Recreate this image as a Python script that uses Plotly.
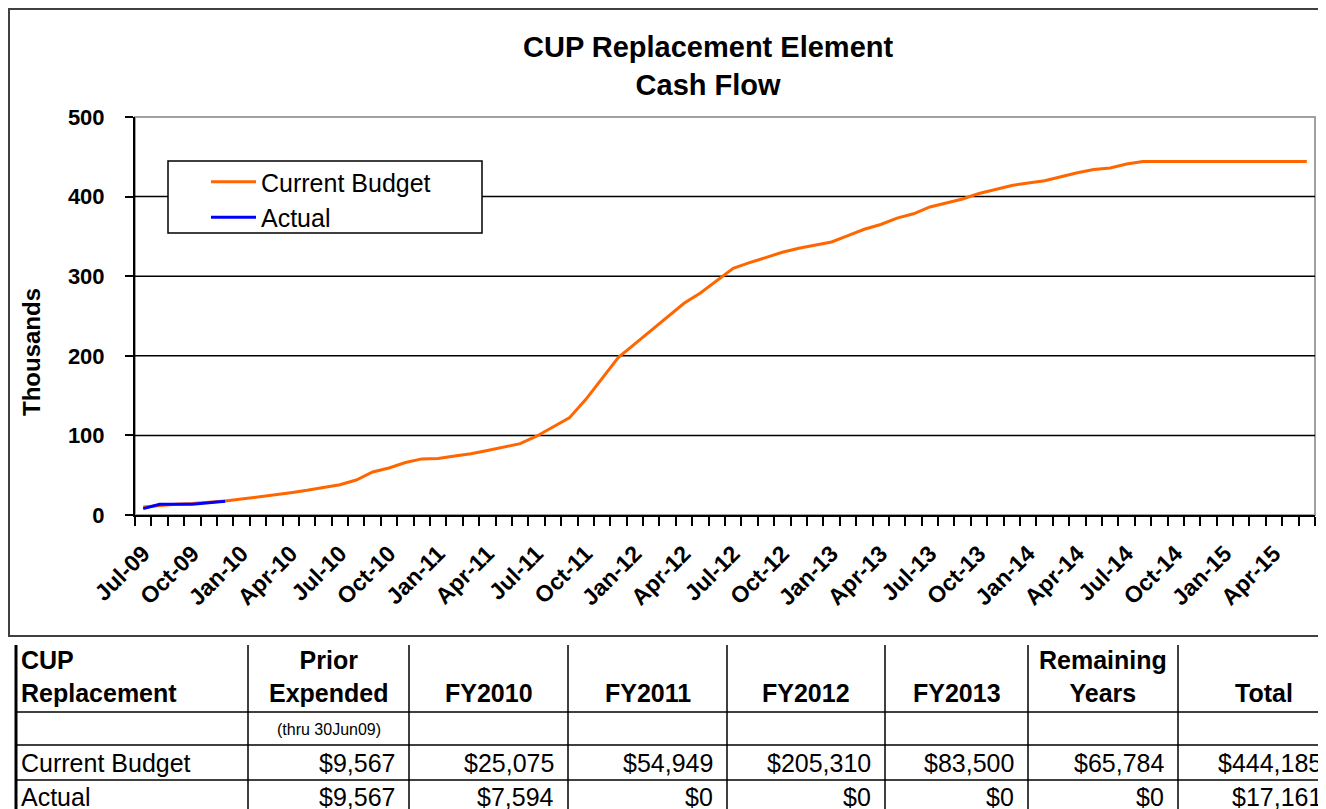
import plotly.graph_objects as go

# month categories (one per point)
months = [
    "Jul-09", "Aug-09", "Sep-09", "Oct-09", "Nov-09", "Dec-09", "Jan-10", "Feb-10", "Mar-10", "Apr-10", "May-10", "Jun-10",
    "Jul-10", "Aug-10", "Sep-10", "Oct-10", "Nov-10", "Dec-10", "Jan-11", "Feb-11", "Mar-11", "Apr-11", "May-11", "Jun-11",
    "Jul-11", "Aug-11", "Sep-11", "Oct-11", "Nov-11", "Dec-11", "Jan-12", "Feb-12", "Mar-12", "Apr-12", "May-12", "Jun-12",
    "Jul-12", "Aug-12", "Sep-12", "Oct-12", "Nov-12", "Dec-12", "Jan-13", "Feb-13", "Mar-13", "Apr-13", "May-13", "Jun-13",
    "Jul-13", "Aug-13", "Sep-13", "Oct-13", "Nov-13", "Dec-13", "Jan-14", "Feb-14", "Mar-14", "Apr-14", "May-14", "Jun-14",
    "Jul-14", "Aug-14", "Sep-14", "Oct-14", "Nov-14", "Dec-14", "Jan-15", "Feb-15", "Mar-15", "Apr-15", "May-15", "Jun-15",
]

# cumulative values, thousands of $
current_budget = [
    10, 12, 13.5, 14.5, 16, 17.5, 20, 22.5, 25.5, 28, 31, 34.6,
    38, 44, 54, 59, 66, 70.5, 71, 74, 77, 81, 85, 89.6,
    99, 110, 122, 145, 172, 198, 215, 232, 250, 266, 279, 294.9,
    310, 317, 324, 330, 335, 339, 343, 351, 359, 365, 373, 378.4,
    387, 392, 397, 404, 409, 414, 417, 420, 425, 430, 434, 436,
    441, 444.2, 444.2, 444.2, 444.2, 444.2, 444.2, 444.2, 444.2, 444.2, 444.2, 444.2,
]
actual = [8, 13.4, 13.5, 13.6, 15.5, 17.2]

# table under the chart
table_header = ["CUP<br>Replacement", "Prior<br>Expended", "FY2010", "FY2011", "FY2012", "FY2013",
                "Remaining<br>Years", "Total"]
table_note = ["", "(thru 30Jun09)", "", "", "", "", "", ""]
budget_row = ["Current Budget", "$9,567", "$25,075", "$54,949", "$205,310", "$83,500", "$65,784", "$444,185"]
actual_row = ["Actual", "$9,567", "$7,594", "$0", "$0", "$0", "$0", "$17,161"]

W, H = 1326, 809
OFF = 8  # page body margin
PL, PR, PT, PB = 135, 1315, 117, 515
FONT = "Liberation Sans, Arial, sans-serif"


def px(x):
    return (x - PL) / (PR - PL)


def py(y):
    return (PB - y) / (PB - PT)


fig = go.Figure()
fig.add_trace(go.Scatter(x=list(range(len(current_budget))), y=current_budget, mode="lines",
                         name="Current Budget", line=dict(color="#FF6600", width=3),
                         legendgroup="a"))
fig.add_trace(go.Scatter(x=list(range(len(actual))), y=actual, mode="lines",
                         name="Actual", line=dict(color="#0000FF", width=3),
                         legendgroup="b"))

shapes = []
# outer chart frame
shapes.append(dict(type="rect", xref="paper", yref="paper", x0=px(9), x1=px(1345), y0=py(9), y1=py(636),
                   line=dict(color="#404040", width=2), layer="below"))
# plot area border (gray)
shapes.append(dict(type="rect", xref="paper", yref="paper", x0=0, x1=1, y0=0, y1=1,
                   line=dict(color="#A0A0A0", width=2), layer="below"))
# horizontal gridlines
for v in [100, 200, 300, 400]:
    shapes.append(dict(type="line", xref="paper", yref="y", x0=0, x1=1, y0=v, y1=v,
                       line=dict(color="black", width=1.5), layer="below"))
# legend box
shapes.append(dict(type="rect", xref="paper", yref="paper", x0=px(168), x1=px(482), y0=py(161), y1=py(233),
                   line=dict(color="black", width=1.5), fillcolor="white", layer="above"))

# table lines
col_edges = [16, 248, 409, 568, 727, 885, 1028, 1178, 1336]
row_lines = [712, 745, 780]
for i, xe in enumerate(col_edges[:-1]):
    shapes.append(dict(type="line", xref="paper", yref="paper", x0=px(xe), x1=px(xe), y0=py(645), y1=py(830),
                       line=dict(color="black", width=3 if i == 0 else 1.5)))
for ye in row_lines:
    shapes.append(dict(type="line", xref="paper", yref="paper", x0=px(16), x1=px(1375), y0=py(ye), y1=py(ye),
                       line=dict(color="black", width=1.5)))

ann = []
ann.append(dict(text="<b>CUP Replacement Element<br>Cash Flow</b>", xref="paper", yref="paper",
                x=px(708), y=py(66), xanchor="center", yanchor="middle", showarrow=False,
                font=dict(family=FONT, size=29, color="black")))
ann.append(dict(text="<b>Thousands</b>", xref="paper", yref="paper", x=px(31), y=py(352),
                xanchor="center", yanchor="middle", textangle=-90, showarrow=False,
                font=dict(family=FONT, size=24, color="black")))

hfont = dict(family=FONT, size=25, color="black")
bfont = dict(family=FONT, size=25, color="black")
for c in range(len(table_header)):
    left, right = col_edges[c], col_edges[c + 1]
    if c == 0:
        ann.append(dict(text="<b>" + table_header[c] + "</b>", xref="paper", yref="paper", x=px(left + 3),
                        y=py(709), xanchor="left", yanchor="bottom", align="left", showarrow=False, font=hfont))
    else:
        hx = (left + right) / 2 if c < len(table_header) - 1 else 1264
        ann.append(dict(text="<b>" + table_header[c] + "</b>", xref="paper", yref="paper", x=px(hx),
                        y=py(709), xanchor="center", yanchor="bottom", align="center", showarrow=False, font=hfont))
    if table_note[c]:
        ann.append(dict(text=table_note[c], xref="paper", yref="paper", x=px((left + right) / 2), y=py(729),
                        xanchor="center", yanchor="middle", showarrow=False,
                        font=dict(family=FONT, size=16, color="black")))
    for row, yy in [(budget_row, 763), (actual_row, 797)]:
        if c == 0:
            ann.append(dict(text=row[c], xref="paper", yref="paper", x=px(left + 3), y=py(yy),
                            xanchor="left", yanchor="middle", showarrow=False, font=bfont))
        else:
            ann.append(dict(text=row[c], xref="paper", yref="paper", x=px(right - 12), y=py(yy),
                            xanchor="right", yanchor="middle", showarrow=False, font=bfont))

fig.update_layout(
    width=W, height=H,
    margin=dict(l=PL - OFF, r=W - PR + OFF, t=PT - OFF, b=H - PB + OFF),
    paper_bgcolor="white", plot_bgcolor="white",
    font=dict(family=FONT, color="black"),
    shapes=shapes, annotations=ann,
    showlegend=True,
    legend=dict(x=px(206), y=py(159), xanchor="left", yanchor="top", bgcolor="rgba(0,0,0,0)",
                borderwidth=0, font=dict(family=FONT, size=25, color="black"), tracegroupgap=0,
                itemwidth=45),
)
fig.update_xaxes(
    range=[-0.5, len(months) - 0.5], tickmode="array",
    tickvals=list(range(0, len(months), 3)), ticktext=months[::3],
    tickangle=-45, ticks="", showgrid=False, zeroline=False,
    showline=True, linecolor="black", linewidth=2, ticklabelstandoff=14,
    tickfont=dict(family=FONT, size=23, color="black", weight="bold"),
    minor=dict(ticks="outside", tick0=-0.5, dtick=1, ticklen=9, tickwidth=1.5, tickcolor="black", showgrid=False),
)
fig.update_yaxes(
    range=[0, 500], tickmode="array", tickvals=[0, 100, 200, 300, 400, 500],
    ticks="outside", ticklen=8, tickwidth=1.5, tickcolor="black", ticklabelstandoff=16,
    showgrid=False, zeroline=False, showline=True, linecolor="black", linewidth=2,
    tickfont=dict(family=FONT, size=22, color="black", weight="bold"),
)

fig.write_html("out.html")
